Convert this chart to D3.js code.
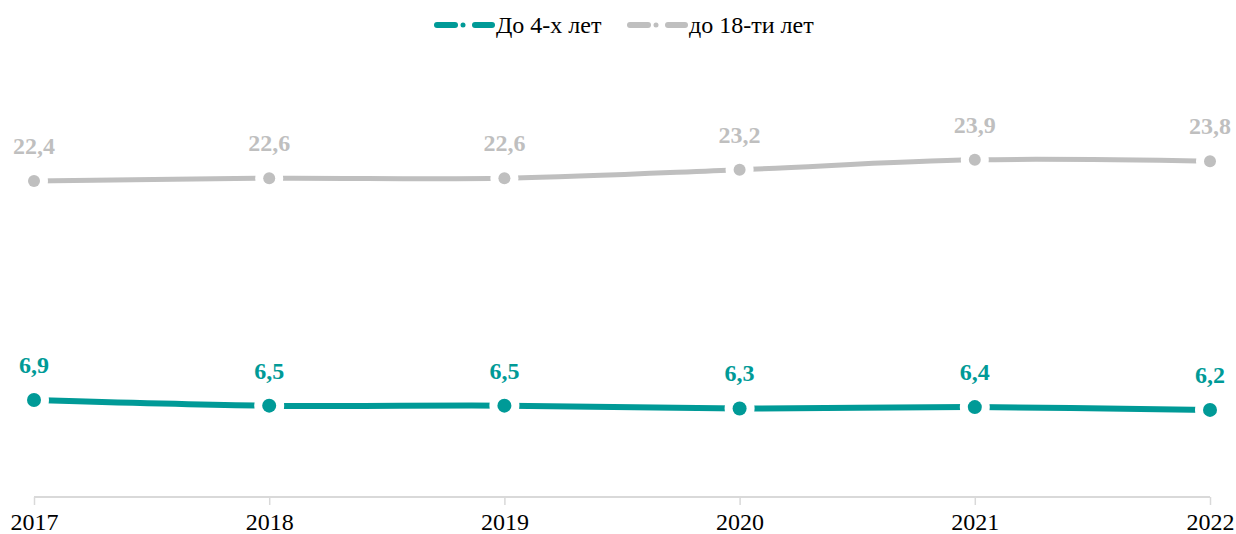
<!DOCTYPE html>
<html>
<head>
<meta charset="utf-8">
<script src="https://cdn.jsdelivr.net/npm/d3@7"></script>
<style>
  body { margin: 0; background: #fff; }
  svg { display: block; }
  text { font-family: "Liberation Serif", "Times New Roman", serif; }
</style>
</head>
<body>
<svg id="chart" width="1236" height="534"></svg>
<script>
const years = ["2017", "2018", "2019", "2020", "2021", "2022"];
const under4 = [6.9, 6.5, 6.5, 6.3, 6.4, 6.2];
const under18 = [22.4, 22.6, 22.6, 23.2, 23.9, 23.8];
const seriesNames = ["До 4-х лет", "до 18-ти лет"];
const seriesColors = ["#009a97", "#bfbfbf"];

const svg = d3.select("#chart");

const x = d3.scalePoint().domain(years).range([34, 1210]);
const y = d3.scaleLinear().domain([0, 35]).range([497.5, 3]);

// category axis
const axis = d3.axisBottom(x).tickSize(8).tickPadding(8);
const gx = svg.append("g").attr("transform", "translate(0,497)").call(axis);
gx.select(".domain").attr("stroke", "#d9d9d9").attr("stroke-width", 2)
  .attr("d", `M${x(years[0])},0H${x(years[years.length - 1])}`);
gx.selectAll(".tick line").attr("stroke", "#d9d9d9").attr("stroke-width", 1.5);
gx.selectAll(".tick text").attr("fill", "#000").attr("font-size", 24)
  .attr("font-family", "Liberation Serif, Times New Roman, serif");

const line = d3.line()
  .x((d, i) => x(years[i]))
  .y(d => y(d))
  .curve(d3.curveCatmullRom.alpha(0.5));

const series = [
  { name: seriesNames[0], values: under4, color: seriesColors[0], r: 7, w: 6 },
  { name: seriesNames[1], values: under18, color: seriesColors[1], r: 6, w: 5 }
];

series.forEach(s => {
  const g = svg.append("g");
  g.append("path")
    .attr("d", line(s.values))
    .attr("fill", "none")
    .attr("stroke", s.color)
    .attr("stroke-width", s.w)
    .attr("stroke-linecap", "butt");
  // white halo separates each marker from the line
  g.selectAll("circle.halo").data(s.values).join("circle")
    .attr("class", "halo")
    .attr("cx", (d, i) => x(years[i]))
    .attr("cy", d => y(d))
    .attr("r", s.r + 8)
    .attr("fill", "#fff");
  g.selectAll("circle.dot").data(s.values).join("circle")
    .attr("class", "dot")
    .attr("cx", (d, i) => x(years[i]))
    .attr("cy", d => y(d))
    .attr("r", s.r)
    .attr("fill", s.color);
  g.selectAll("text.lbl").data(s.values).join("text")
    .attr("class", "lbl")
    .attr("x", (d, i) => x(years[i]))
    .attr("y", d => y(d) - 27)
    .attr("text-anchor", "middle")
    .attr("font-size", 24)
    .attr("font-weight", "bold")
    .attr("fill", s.color)
    .text(d => d.toFixed(1).replace(".", ","));
});

// legend
const legendItems = [
  { x0: 437, tx: 496, s: series[0] },
  { x0: 630, tx: 689, s: series[1] }
];
const ly = 25;
legendItems.forEach(it => {
  const g = svg.append("g").attr("transform", `translate(${it.x0},${ly})`);
  g.append("line").attr("x1", 0).attr("x2", 18).attr("y1", 0).attr("y2", 0)
    .attr("stroke", it.s.color).attr("stroke-width", 6).attr("stroke-linecap", "round");
  g.append("circle").attr("cx", 26).attr("cy", 0).attr("r", 2.5).attr("fill", it.s.color);
  g.append("line").attr("x1", 38).attr("x2", 55).attr("y1", 0).attr("y2", 0)
    .attr("stroke", it.s.color).attr("stroke-width", 6).attr("stroke-linecap", "round");
  svg.append("text").attr("x", it.tx).attr("y", ly + 8)
    .attr("font-size", 24).attr("fill", "#000").text(it.s.name);
});
</script>
</body>
</html>
